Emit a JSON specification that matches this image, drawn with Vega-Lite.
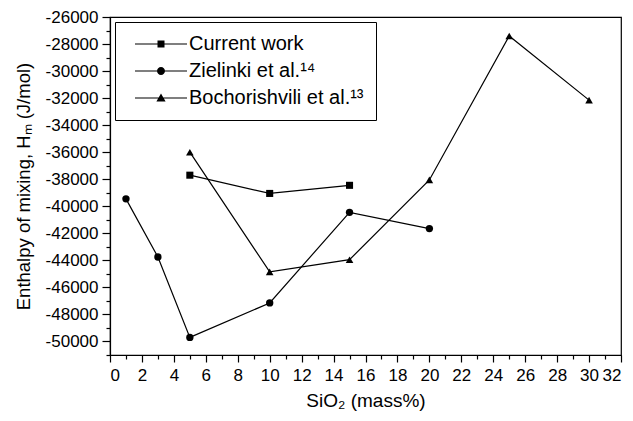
{
  "$schema": "https://vega.github.io/schema/vega-lite/v6.json",
  "width": 511,
  "height": 338,
  "autosize": "none",
  "padding": {"left": 110, "top": 17, "right": 12, "bottom": 66},
  "background": "white",
  "config": {
    "font": "Liberation Sans",
    "view": {"stroke": "black", "strokeWidth": 1.2},
    "axis": {
      "grid": false,
      "domainColor": "black",
      "domainWidth": 1.2,
      "tickColor": "black",
      "tickWidth": 1.2,
      "labelColor": "black",
      "titleColor": "black",
      "labelFont": "Liberation Sans",
      "titleFont": "Liberation Sans",
      "titleFontWeight": "normal",
      "labelFontSize": 17
    }
  },
  "data": {
    "values": [
      {"series": "Current work", "x": 5, "y": -37700},
      {"series": "Current work", "x": 10, "y": -39050},
      {"series": "Current work", "x": 15, "y": -38450},
      {"series": "Zielinki et al.¹⁴", "x": 1, "y": -39450},
      {"series": "Zielinki et al.¹⁴", "x": 3, "y": -43750},
      {"series": "Zielinki et al.¹⁴", "x": 5, "y": -49700},
      {"series": "Zielinki et al.¹⁴", "x": 10, "y": -47150},
      {"series": "Zielinki et al.¹⁴", "x": 15, "y": -40450},
      {"series": "Zielinki et al.¹⁴", "x": 20, "y": -41650},
      {"series": "Bochorishvili et al.¹³", "x": 5, "y": -36000},
      {"series": "Bochorishvili et al.¹³", "x": 10, "y": -44850},
      {"series": "Bochorishvili et al.¹³", "x": 15, "y": -43950},
      {"series": "Bochorishvili et al.¹³", "x": 20, "y": -38050},
      {"series": "Bochorishvili et al.¹³", "x": 25, "y": -27400},
      {"series": "Bochorishvili et al.¹³", "x": 30, "y": -32150}
    ]
  },
  "encoding": {
    "x": {
      "field": "x",
      "type": "quantitative",
      "scale": {"domain": [0, 32], "nice": false, "zero": false},
      "axis": {
        "title": "SiO₂ (mass%)",
        "titleFontSize": 19,
        "values": [0,1,2,3,4,5,6,7,8,9,10,11,12,13,14,15,16,17,18,19,20,21,22,23,24,25,26,27,28,29,30,31,32],
        "labelExpr": "datum.value % 2 == 0 ? '' + datum.value : ''",
        "tickSize": {"condition": {"test": "datum.value % 2 == 0", "value": 7}, "value": 4},
        "labelPadding": 5,
        "titlePadding": 8
      }
    },
    "y": {
      "field": "y",
      "type": "quantitative",
      "scale": {"domain": [-51000, -26000], "nice": false, "zero": false},
      "axis": {
        "title": "Enthalpy of mixing, Hₘ (J/mol)",
        "titleFontSize": 18.5,
        "values": [-51000,-50000,-49000,-48000,-47000,-46000,-45000,-44000,-43000,-42000,-41000,-40000,-39000,-38000,-37000,-36000,-35000,-34000,-33000,-32000,-31000,-30000,-29000,-28000,-27000,-26000],
        "labelExpr": "datum.value % 2000 == 0 ? '' + datum.value : ''",
        "tickSize": {"condition": {"test": "datum.value % 2000 == 0", "value": 8}, "value": 4},
        "labelPadding": 4,
        "titlePadding": 12
      }
    }
  },
  "layer": [
    {
      "mark": {"type": "line", "color": "black", "strokeWidth": 1.2},
      "encoding": {"detail": {"field": "series"}}
    },
    {
      "mark": {"type": "point", "filled": true, "color": "black", "opacity": 1},
      "encoding": {
        "shape": {
          "field": "series",
          "type": "nominal",
          "scale": {
            "domain": ["Current work", "Zielinki et al.¹⁴", "Bochorishvili et al.¹³"],
            "range": ["square", "circle", "triangle-up"]
          },
          "legend": null
        },
        "size": {
          "field": "series",
          "type": "nominal",
          "scale": {
            "domain": ["Current work", "Zielinki et al.¹⁴", "Bochorishvili et al.¹³"],
            "range": [50, 58, 72]
          },
          "legend": null
        }
      }
    },
    {
      "mark": {"type": "point", "filled": true, "color": "black", "opacity": 0, "size": 64},
      "encoding": {
        "shape": {
          "field": "series",
          "type": "nominal",
          "scale": {
            "domain": ["Current work", "Zielinki et al.¹⁴", "Bochorishvili et al.¹³"],
            "range": [
              "M-0.5,-0.15H12.5V0.15H-0.5ZM5.125,-0.875H6.875V0.875H5.125Z",
              "M-0.5,-0.15H12.5V0.15H-0.5ZM5,0A1,1,0,1,1,7,0A1,1,0,1,1,5,0Z",
              "M-0.5,-0.15H12.5V0.15H-0.5ZM6,-1.1L7.15,0.9L4.85,0.9Z"
            ]
          },
          "legend": {
            "title": null,
            "orient": "top-left",
            "offset": 5,
            "padding": 12,
            "strokeColor": "black",
            "fillColor": "white",
            "labelFont": "Liberation Sans",
            "labelFontSize": 20,
            "labelColor": "black",
            "labelLimit": 400,
            "labelOffset": 42,
            "rowPadding": 7,
            "symbolSize": 64,
            "encode": {
              "symbols": {
                "update": {
                  "opacity": {"value": 1},
                  "fillOpacity": {"value": 1},
                  "fill": {"value": "black"},
                  "strokeWidth": {"value": 0}
                }
              }
            }
          }
        }
      }
    }
  ],
  "resolve": {"scale": {"shape": "independent"}, "legend": {"shape": "independent"}}
}
